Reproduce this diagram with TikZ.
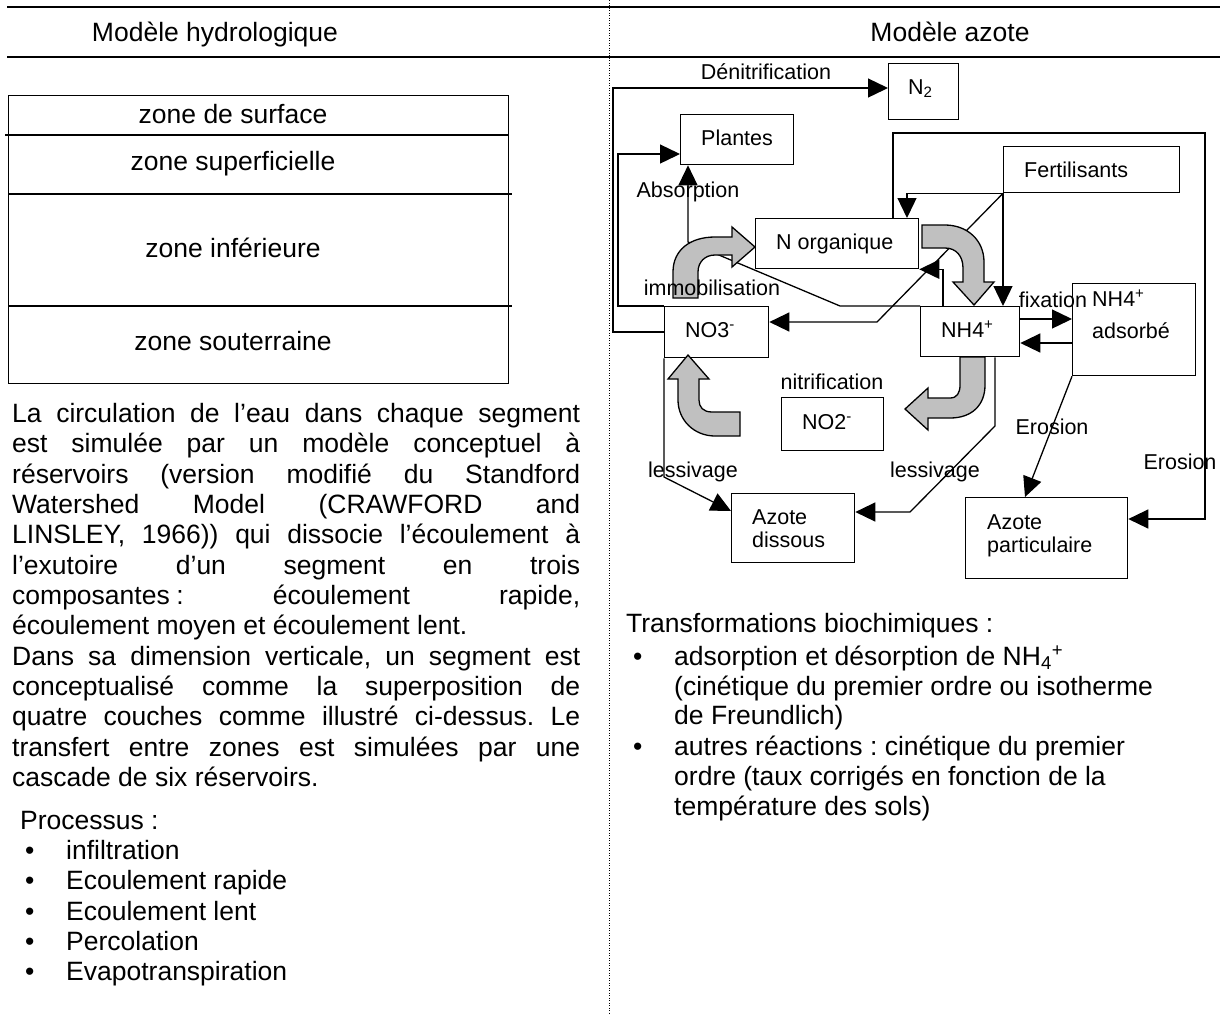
\documentclass[tikz,border=0pt]{standalone}
\usepackage{fontspec}
\setmainfont{Liberation Sans}
\usetikzlibrary{arrows.meta,calc}
\definecolor{garr}{RGB}{192,192,192}
\newcommand\jl[1]{\makebox[568pt][s]{#1}}
\frenchspacing
\begin{document}
\begin{tikzpicture}[x=1pt,y=-1pt,
  ln/.style={line width=1.3pt},
  arr/.style={line width=1.3pt,-{Triangle[length=20pt,width=19pt]}},
  box/.style={draw,line width=1.3pt,anchor=north west,inner sep=0pt},
  bx/.style={font=\fontsize{21.5}{23}\selectfont,anchor=base west,inner sep=0pt},
  lb/.style={font=\fontsize{21.5}{23}\selectfont,anchor=base,inner sep=0pt},
  bt/.style={font=\fontsize{26.5}{30}\selectfont,anchor=base west,inner sep=0pt},
  bc/.style={font=\fontsize{26.5}{30}\selectfont,anchor=base,inner sep=0pt},
  garrow/.style={draw,line width=1.3pt,fill=garr,line join=miter},
]
\useasboundingbox (0,0) rectangle (1223,1013);
% frame lines
\draw[ln] (7,7) -- (1220,7);
\draw[ln] (7,57) -- (1220,57);
\draw[line width=1pt,dash pattern=on 1pt off 1.5pt] (609,0) -- (609,1013);
\node[bc] (h1) at (215,41.5) {Modèle hydrologique};
\node[bc] (h2) at (950,41.5) {Modèle azote};

% zones
\node[box,minimum width=500pt,minimum height=288pt] (zones) at (8,95) {};
\draw[ln] (5,135) -- (508,135);
\draw[ln] (8,194) -- (512,194);
\draw[ln] (8,306) -- (512,306);
\node[bc] (z1) at (233,123.5) {zone de surface};
\node[bc] (z2) at (233,170.5) {zone superficielle};
\node[bc] (z3) at (233,257.5) {zone inférieure};
\node[bc] (z4) at (233,350.5) {zone souterraine};

% paragraph
\node[bt] (p1) at (12,422.5) {\jl{La circulation de l’eau dans chaque segment}};
\node[bt] (p2) at (12,452.8) {\jl{est simulée par un modèle conceptuel à}};
\node[bt] (p3) at (12,483.2) {\jl{réservoirs (version modifié du Standford}};
\node[bt] (p4) at (12,513.5) {\jl{Watershed Model (CRAWFORD and}};
\node[bt] (p5) at (12,543.8) {\jl{LINSLEY, 1966)) qui dissocie l’écoulement à}};
\node[bt] (p6) at (12,574.2) {\jl{l’exutoire d’un segment en trois}};
\node[bt] (p7) at (12,604.5) {\jl{composantes\hspace{0.25em}: écoulement rapide,}};
\node[bt] (p8) at (12,634.8) {écoulement moyen et écoulement lent.};
\node[bt] (p9) at (12,665.1) {\jl{Dans sa dimension verticale, un segment est}};
\node[bt] (p10) at (12,695.5) {\jl{conceptualisé comme la superposition de}};
\node[bt] (p11) at (12,725.8) {\jl{quatre couches comme illustré ci-dessus. Le}};
\node[bt] (p12) at (12,756.1) {\jl{transfert entre zones est simulées par une}};
\node[bt] (p13) at (12,786.5) {cascade de six réservoirs.};

\node[bt] (proc) at (20,829.5) {Processus :};
\foreach \t [count=\i from 0] in {infiltration,Ecoulement rapide,Ecoulement lent,Percolation,Evapotranspiration}{
  \node[bt] (pb\i) at (25,859.5+30.3*\i) {•};
  \node[bt] (pt\i) at (66,859.5+30.3*\i) {\t};
}

% right text
\node[bt] (tr) at (626,632.5) {Transformations biochimiques :};
\node[bt] (rb1) at (633,665.5) {•};
\node[bt] (r1) at (674,665.5) {adsorption et désorption de NH\textsubscript{4}\textsuperscript{+}};
\node[bt] (r2) at (674,695.5) {(cinétique du premier ordre ou isotherme};
\node[bt] (r3) at (674,724.5) {de Freundlich)};
\node[bt] (rb2) at (633,755.5) {•};
\node[bt] (r4) at (674,755.5) {autres réactions : cinétique du premier};
\node[bt] (r5) at (674,785.5) {ordre (taux corrigés en fonction de la};
\node[bt] (r6) at (674,815.5) {température des sols)};

% boxes of nitrogen model
\node[box,minimum width=70pt,minimum height=56pt] (N2) at (888,63) {};
\node[box,minimum width=113pt,minimum height=50pt] (Plantes) at (680,114) {};
\node[box,minimum width=163pt,minimum height=50pt] (NOrg) at (755,218) {};
\node[box,minimum width=176pt,minimum height=46pt] (Fert) at (1003,146) {};
\node[box,minimum width=104pt,minimum height=51pt] (NO3) at (664,306) {};
\node[box,minimum width=99pt,minimum height=50pt] (NH4) at (920,306) {};
\node[box,minimum width=123pt,minimum height=92pt] (Ads) at (1072,283) {};
\node[box,minimum width=102pt,minimum height=53pt] (NO2) at (781,397) {};
\node[box,minimum width=123pt,minimum height=69pt] (Dis) at (731,493) {};
\node[box,minimum width=162pt,minimum height=81pt] (Part) at (965,497) {};

\node[bx] (tN2) at ($(N2.north west)+(20,31.5)$) {N\textsubscript{2}};
\node[bx] (tPl) at ($(Plantes.north west)+(21,31.5)$) {Plantes};
\node[bx] (tNO) at ($(NOrg.north west)+(21,31.5)$) {N organique};
\node[bx] (tFe) at ($(Fert.north west)+(21,31.5)$) {Fertilisants};
\node[bx] (tNO3) at ($(NO3.north west)+(21,31.5)$) {NO3\textsuperscript{-}};
\node[bx] (tNH4) at ($(NH4.north west)+(21,31.5)$) {NH4\textsuperscript{+}};
\node[bx] (tAd1) at ($(Ads.north west)+(20,23)$) {NH4\textsuperscript{+}};
\node[bx] (tAd2) at ($(Ads.north west)+(20,55)$) {adsorbé};
\node[bx] (tNO2) at ($(NO2.north west)+(21,32)$) {NO2\textsuperscript{-}};
\node[bx] (tDi1) at ($(Dis.north west)+(21,31.5)$) {Azote};
\node[bx] (tDi2) at ($(Dis.north west)+(21,54.5)$) {dissous};
\node[bx] (tPa1) at ($(Part.north west)+(22,32.5)$) {Azote};
\node[bx] (tPa2) at ($(Part.north west)+(22,55.5)$) {particulaire};

% bend points
\coordinate (dl) at (613,200);
\coordinate (al) at (618,200);
\coordinate (ab1) at (840,306);
\coordinate (ab2) at (688,242);
\coordinate (er1) at (1205,133);
\coordinate (fn) at (877,322);
\coordinate (l1) at (995,426);
\coordinate (l2) at (910,512);
\coordinate (l3) at (664,477);

% connectors
\draw[arr] ($(NO3.north west)+(0,26)$) -| (dl) |- ($(N2.north west)+(0,25)$);
\draw[arr] (NO3.north west) -| (al) |- ($(Plantes.north west)+(0,40)$);
\draw[arr] (NH4.north west) -- (ab1) -- (ab2) -- ($(Plantes.south west)+(8,0)$);
\draw[arr] ($(NH4.north west)+(23,0)$) |- (NOrg.south east);
\draw[arr] ($(NOrg.north west)+(138,0)$) |- (er1) |- ($(Part.north east)+(0,22)$);
\draw[arr] (Fert.south west) -| ($(NOrg.north west)+(152,0)$);
\draw[arr] (Fert.south west) -- ($(NH4.north west)+(83,0)$);
\draw[arr] (Fert.south west) -- (fn) -- ($(NO3.north east)+(0,16)$);
\draw[arr] ($(NH4.north east)+(0,13)$) -- ($(Ads.north west)+(0,36)$);
\draw[arr] ($(Ads.north west)+(0,60)$) -- ($(NH4.north east)+(0,37)$);
\draw[arr] (Ads.south west) -- ($(Part.north west)+(60,0)$);
\draw[arr] ($(NH4.south west)+(75,0)$) -- (l1) -- (l2) -- ($(Dis.north east)+(0,19)$);
\draw[arr] (NO3.south west) -- (l3) -- ($(Dis.north west)+(0,18)$);

% grey block arrows
\draw[garrow] (673,298) -- (673,272) .. controls (673,250) and (690,237) .. (715,237) -- (732,237) -- (732,227) -- (755,247) -- (732,267) -- (732,255) -- (715,255) .. controls (705,255) and (698,262) .. (698,272) -- (698,298) -- cycle;
\draw[garrow] (922,225) -- (945,225) .. controls (967,225) and (984,240) .. (984,262) -- (984,282) -- (994,282) -- (974,305) -- (953,282) -- (963,282) -- (963,268) .. controls (963,256) and (956,248) .. (945,248) -- (922,248) -- cycle;
\draw[garrow] (960,357) -- (985,357) -- (985,385) .. controls (985,405) and (972,418) .. (950,418) -- (928,418) -- (928,430) -- (905,409) -- (928,388) -- (928,398) -- (950,398) .. controls (957,398) and (960,393) .. (960,385) -- cycle;
\draw[garrow] (740,436) -- (715,436) .. controls (694,436) and (678,420) .. (678,400) -- (678,379) -- (668,379) -- (688,355) -- (709,379) -- (699,379) -- (699,400) .. controls (699,407) and (703,412) .. (712,412) -- (740,412) -- cycle;

% labels
\node[lb] (lden) at (766,79.7) {Dénitrification};
\node[lb] (labs) at (688,197.7) {Absorption};
\node[lb] (limm) at (712,295.7) {immobilisation};
\node[lb] (lfix) at (1053,307.7) {fixation};
\node[lb] (lnit) at (832,389.7) {nitrification};
\node[lb] (lle1) at (693,477.7) {lessivage};
\node[lb] (lle2) at (935,477.7) {lessivage};
\node[lb] (ler1) at (1052,434.7) {Erosion};
\node[lb] (ler2) at (1180,469.7) {Erosion};
\end{tikzpicture}
\end{document}
